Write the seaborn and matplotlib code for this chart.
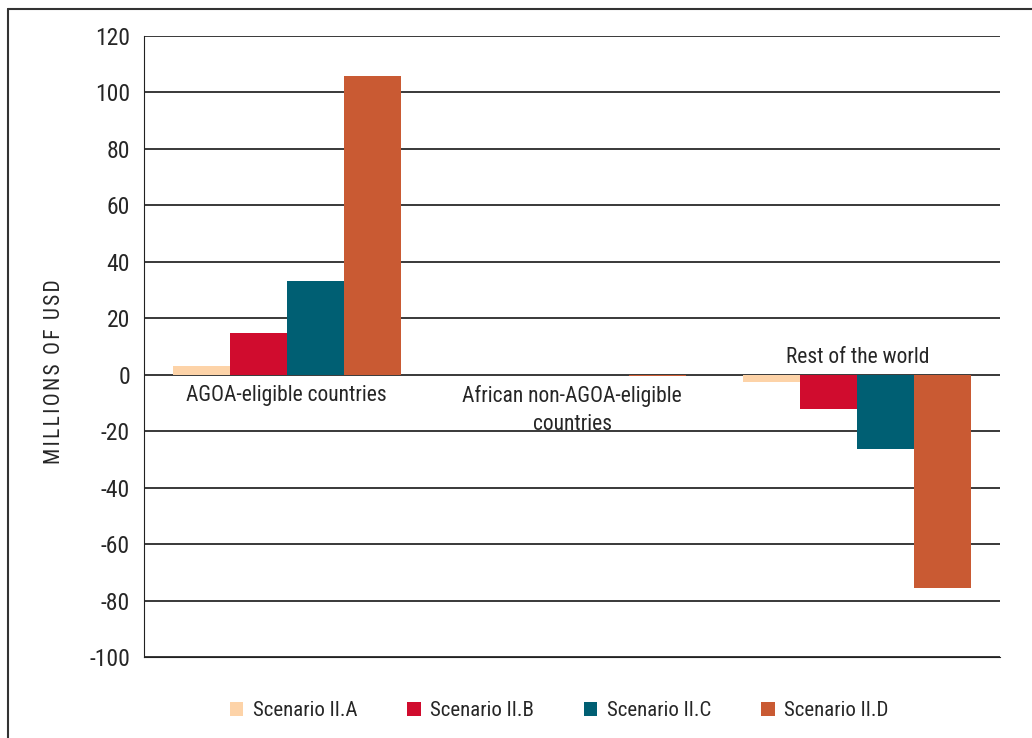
import pandas as pd
import matplotlib.pyplot as plt
import seaborn as sns
from matplotlib.lines import Line2D
from matplotlib.patches import Patch

# values (millions of USD)
regions = ["AGOA-eligible countries", "African non-AGOA-eligible\ncountries", "Rest of the world"]
scenarios = ["Scenario II.A", "Scenario II.B", "Scenario II.C", "Scenario II.D"]
scen_a = [3.2, -0.1, -2.7]
scen_b = [14.9, -0.1, -12.0]
scen_c = [33.3, -0.1, -26.2]
scen_d = [105.9, -0.5, -75.7]
colors = ["#fdd3a8", "#d00c2e", "#005f73", "#c95a33"]
yticks = list(range(-100, 121, 20))
ylabel = "MILLIONS OF USD"

rows = []
for s, vals in zip(scenarios, [scen_a, scen_b, scen_c, scen_d]):
    for r, v in zip(regions, vals):
        rows.append({"region": r, "scenario": s, "value": v})
df = pd.DataFrame(rows)

sns.set_style("white")
plt.rcParams['font.family'] = ['Roboto Condensed', 'Liberation Sans', 'DejaVu Sans']

fig = plt.figure(figsize=(10.32, 7.38), dpi=100)
ax = fig.add_axes([144 / 1032, 1 - 657 / 738, (1000 - 144) / 1032, (657 - 36) / 738])

sns.barplot(data=df, x="region", y="value", hue="scenario", order=regions,
            hue_order=scenarios, palette=colors, saturation=1, width=0.8,
            linewidth=0, ax=ax, legend=False, zorder=3)

ax.set_ylim(-100, 120)
ax.set_xlim(-0.5, 2.5)
ax.set_yticks(yticks)
ax.set_yticklabels([str(t) for t in yticks], fontsize=17)
ax.tick_params(axis='y', length=0, pad=10)
ax.set_xticks([])
ax.set_xlabel("")
# letter-spaced axis title, sitting a little below the axes centre
ax.set_ylabel("\u200a".join(ylabel), fontsize=15.5)
ax.yaxis.set_label_coords(-0.092, 0.459)
for t in yticks:
    ax.axhline(t, color="#2a2a2a", lw=1.3, zorder=1)
for side in ["top", "right"]:
    ax.spines[side].set_visible(False)
ax.spines["left"].set_color("#222222")
ax.spines["bottom"].set_color("#222222")

# category labels sit on the zero line like the original
ax.text(0, -3.5, regions[0], ha="center", va="top", fontsize=15.5, zorder=4)
ax.text(1, -3.5, regions[1], ha="center", va="top", fontsize=15.5, zorder=4,
        linespacing=1.45)
ax.text(2, 2.5, regions[2], ha="center", va="bottom", fontsize=15.5, zorder=4)

handles = [Patch(facecolor=c, edgecolor="none") for c in colors]
fig.legend(handles, scenarios, loc="center", bbox_to_anchor=(559 / 1032, 1 - 711 / 738),
           ncol=4, frameon=False, fontsize=15, handlelength=0.65, handleheight=0.65,
           columnspacing=2.4, handletextpad=0.45)

# partial frame around the figure
fig.add_artist(Line2D([8 / 1032, 8 / 1032], [0, 1 - 9 / 738], color="#333333", lw=1.5))
fig.add_artist(Line2D([8 / 1032, 1], [1 - 9 / 738, 1 - 9 / 738], color="#333333", lw=1.5))

fig.savefig("out.png", dpi=100)
